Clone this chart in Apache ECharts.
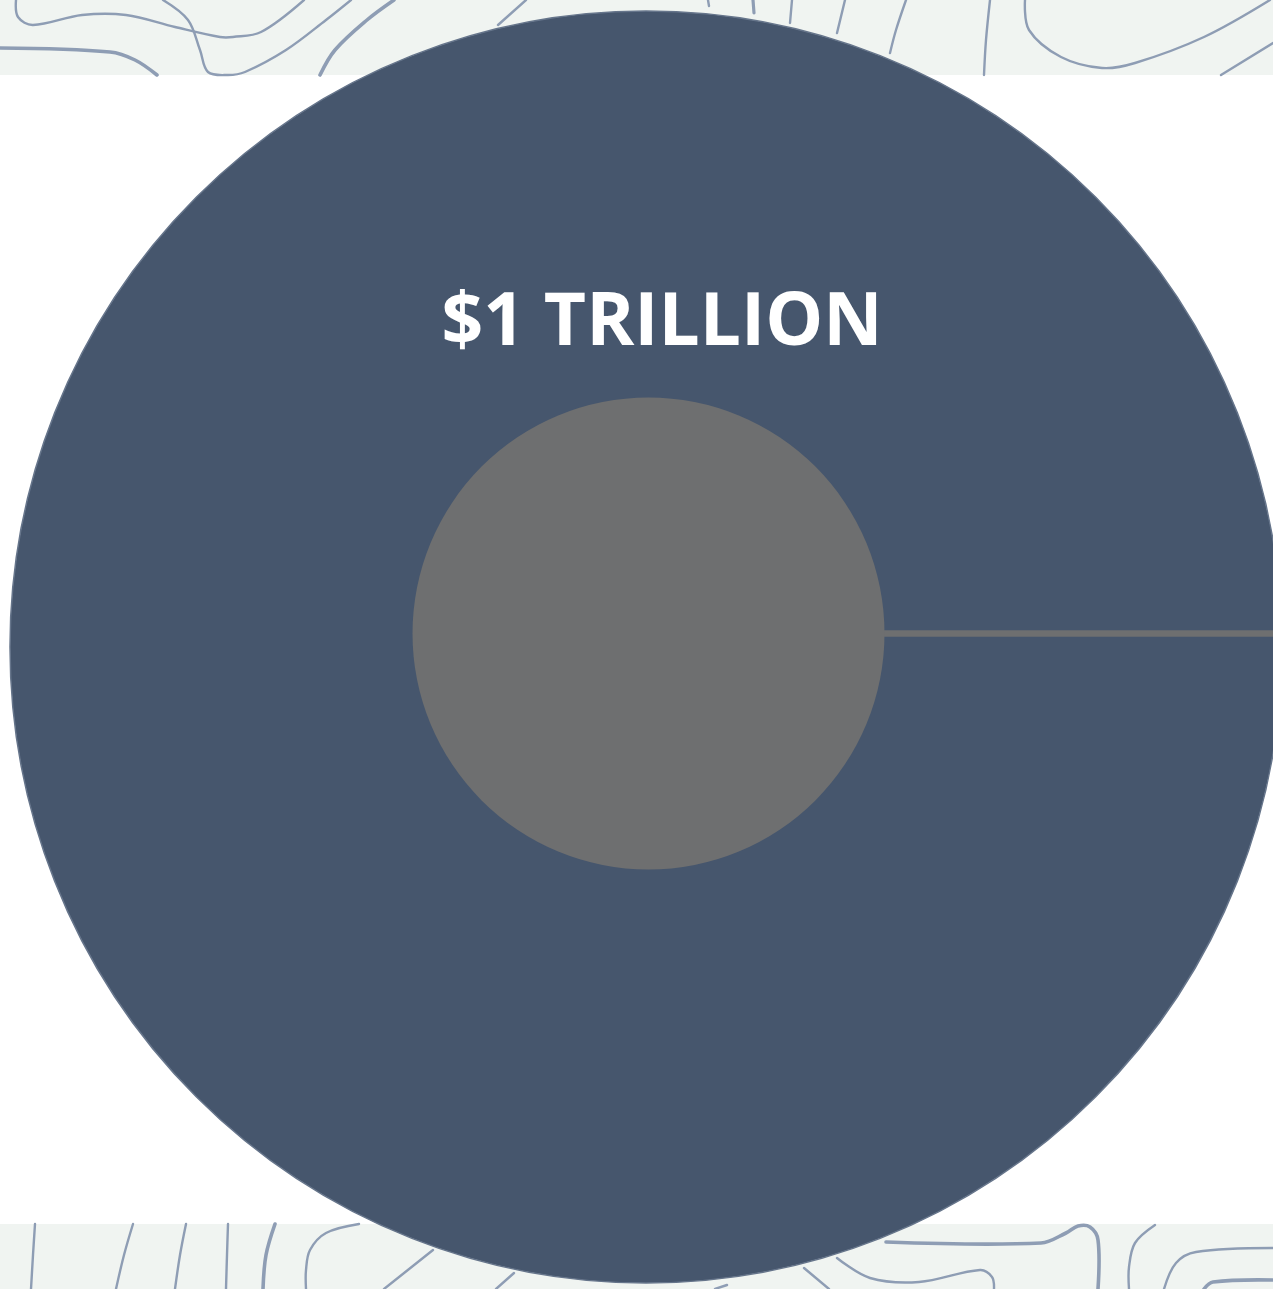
<!DOCTYPE html>
<html><head><meta charset="utf-8">
<script src="https://cdn.jsdelivr.net/npm/echarts@6/dist/echarts.min.js"></script>
<style>html,body{margin:0;padding:0;background:#ffffff;overflow:hidden}#chart{width:1273px;height:1289px}</style>
</head><body><div id="chart"></div>
<script>
// ---- data ----
const categories = ['$1 TRILLION'];
const values = [1];            // US$ trillion
const holeCategories = [''];
const holeValues = [1];

// ---- decorative topographic background (not data) ----
const topoTop = [
  {w:2.4, p:[[16,0],[18,17],[33,25],[82,15],[126,15],[175,27],[220,37],[233,37],[261,32],[304,0]]},
  {w:3.6, p:[[0,48],[110,52],[135,60],[157,75]]},
  {w:2.4, p:[[163,0],[188,20],[200,50],[208,72],[228,75],[245,72],[286,50],[326,20],[351,0]]},
  {w:3.6, p:[[394,0],[367,20],[335,50],[320,75]]},
  {w:2.4, p:[[498,25],[526,0]]},
  {w:2.4, p:[[708,0],[709,6]]},
  {w:3.2, p:[[753,0],[754,13]]},
  {w:2.4, p:[[792,0],[790,23]]},
  {w:2.4, p:[[845,0],[837,33]]},
  {w:2.4, p:[[906,0],[896,30],[890,53]]},
  {w:2.4, p:[[990,0],[986,40],[984,75]]},
  {w:2.4, p:[[1025,0],[1029,30],[1061,57],[1102,68],[1135,63],[1204,37],[1270,0]]},
  {w:2.4, p:[[1221,75],[1273,43]]}
];
const topoBottom = [
  {w:2.4, p:[[35,1224],[33,1255],[31,1289]]},
  {w:2.4, p:[[133,1224],[124,1255],[116,1289]]},
  {w:2.4, p:[[186,1224],[180,1255],[175,1289]]},
  {w:2.4, p:[[228,1224],[227,1255],[226,1289]]},
  {w:3.6, p:[[275,1224],[266,1255],[263,1289]]},
  {w:2.4, p:[[359,1224],[326,1233],[310,1250],[306,1270],[306,1289]]},
  {w:2.4, p:[[433,1250],[384,1289]]},
  {w:2.4, p:[[514,1273],[496,1289]]},
  {w:2.4, p:[[715,1289],[727,1285]]},
  {w:2.4, p:[[804,1268],[829,1289]]},
  {w:2.4, p:[[837,1258],[870,1278],[919,1282],[980,1270],[992,1277],[994,1289]]},
  {w:3.6, p:[[886,1242],[1041,1243],[1066,1233],[1078,1226],[1090,1227],[1098,1240],[1098,1289]]},
  {w:2.4, p:[[1155,1225],[1135,1243],[1129,1267],[1129,1289]]},
  {w:2.4, p:[[1273,1248],[1196,1252],[1176,1263],[1164,1289]]},
  {w:3.6, p:[[1273,1280],[1213,1282],[1204,1289]]}
];

const OUTER = '#46566d';
const HOLE = '#6e6f70';
const LINE = '#8e9db4';
const STRIP = '#f0f4f1';

const decor = [
  {type:'rect', z:-20, shape:{x:0,y:0,width:1273,height:75}, style:{fill:STRIP}},
  {type:'rect', z:-20, shape:{x:0,y:1224,width:1273,height:65}, style:{fill:STRIP}}
];
function addLines(list){
  list.forEach(function(l){
    decor.push({type:'polyline', z:-10,
      shape:{points:l.p, smooth:0.35},
      style:{stroke:LINE, lineWidth:l.w, fill:null, lineCap:'round'}});
  });
}
addLines(topoTop);
addLines(topoBottom);

const chart = echarts.init(document.getElementById('chart'), null, {renderer:'canvas'});
chart.setOption({
  animation:false,
  backgroundColor:'#ffffff',
  graphic: decor,
  polar:{center:[648,633.5], radius:[236,720]},
  angleAxis:{type:'category', data:categories, startAngle:0, z:3,
    axisLine:{show:false}, axisTick:{show:false}, axisLabel:{show:false},
    splitArea:{show:false},
    splitLine:{show:true, lineStyle:{color:HOLE, width:6.5}}},
  radiusAxis:{type:'value', show:false, axisLine:{show:false}, splitLine:{show:false}},
  series:[
    {
      type:'pie', z:2, center:[646,647], radius:[0,636], startAngle:270,
      silent:true, clockwise:true,
      itemStyle:{color:OUTER, borderColor:'#66758b', borderWidth:1.5},
      label:{show:true, position:'inside', rotate:0, formatter:'{b}',
        color:'#ffffff', fontSize:73, fontWeight:'bold', fontFamily:'"Open Sans", "Noto Sans", sans-serif'},
      labelLine:{show:false},
      labelLayout:{dx:16, dy:-2},
      emphasis:{disabled:true},
      data: categories.map(function(c,i){return {name:c, value:values[i]};})
    },
    {
      type:'pie', z:4, center:[648.5,633.5], radius:[0,236],
      silent:true,
      itemStyle:{color:HOLE},
      label:{show:false}, labelLine:{show:false},
      emphasis:{disabled:true},
      data: holeCategories.map(function(c,i){return {name:c, value:holeValues[i]};})
    }
  ]
});
</script></body></html>
